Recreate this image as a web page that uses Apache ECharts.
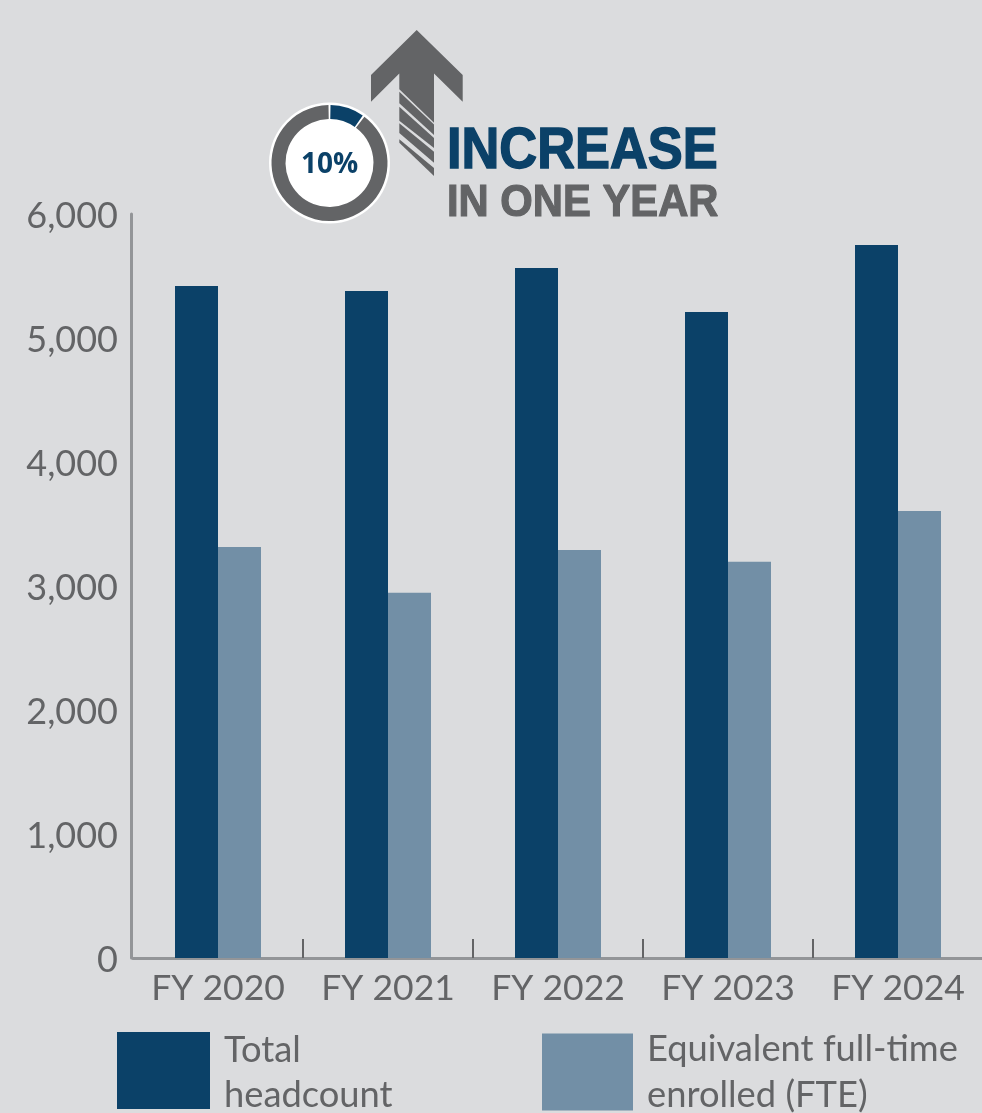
<!DOCTYPE html>
<html><head><meta charset="utf-8">
<style>html,body{margin:0;padding:0;background:#dbdcde;overflow:hidden;width:982px;height:1113px}#c{width:990px;height:1113px}</style>
<script src="https://cdn.jsdelivr.net/npm/echarts@6/dist/echarts.min.js"></script>
</head><body><div id="c"></div>
<script>
const categories = ['FY 2020','FY 2021','FY 2022','FY 2023','FY 2024'];
const totalHeadcount = [5420,5380,5565,5210,5750];
const fteEnrolled = [3315,2945,3290,3195,3605];
const yTicks = {min:0,max:6000,interval:1000};
const donutValues = [10,90];
const names = {total:'Total headcount', fte:'Equivalent full-time enrolled (FTE)'};
const navy='#0b4168', steel='#728fa6', grey='#636466', axisGrey='#939598';
const font='Lato';
const chart=echarts.init(document.getElementById('c'),null,{renderer:'canvas'});
const legendCommon={orient:'horizontal',itemGap:0,icon:'rect',itemWidth:93,itemHeight:77,selectedMode:false};
const legendFont={fontFamily:font,fontSize:36.3,color:grey};
chart.setOption({
  animation:false,backgroundColor:'#dbdcde',
  grid:{left:133,right:7,top:214,bottom:155,containLabel:false},
  legend:[
   Object.assign({},legendCommon,{data:[names.total],left:117,top:1032,padding:0,
     formatter:()=>'{a|Total}\n{b|headcount}',
     textStyle:Object.assign({},legendFont,{padding:[0,0,0,9],rich:{
       a:Object.assign({},legendFont,{lineHeight:50}),
       b:Object.assign({},legendFont,{lineHeight:40})}})}),
   Object.assign({},legendCommon,{data:[names.fte],left:542,top:1026,padding:0,itemWidth:91,
     formatter:()=>'Equivalent full-time\nenrolled (FTE)',
     textStyle:Object.assign({},legendFont,{lineHeight:46,padding:[0,0,0,9]})})
  ],
  xAxis:{type:'category',data:categories,
    axisLine:{lineStyle:{color:axisGrey,width:3}},
    axisTick:{show:true,inside:true,length:19,alignWithLabel:false,interval:(i)=>i>0,lineStyle:{color:grey,width:2}},
    axisLabel:{fontFamily:font,fontSize:35.5,color:grey,margin:13,interval:0}},
  yAxis:{type:'value',min:yTicks.min,max:yTicks.max,interval:yTicks.interval,offset:2,
    axisLine:{show:true,lineStyle:{color:axisGrey,width:3}},
    axisTick:{show:false},splitLine:{show:false},
    axisLabel:{fontFamily:font,fontSize:36,color:grey,margin:13,verticalAlign:'top',lineHeight:5,formatter:v=>v.toLocaleString('en-US')}},
  series:[
   {type:'bar',name:names.total,data:totalHeadcount,barWidth:43,barGap:'0%',itemStyle:{color:navy},z:3},
   {type:'bar',name:names.fte,data:fteEnrolled,barWidth:43,barGap:'0%',itemStyle:{color:steel},z:3},
   {type:'pie',radius:[44,58],center:[329.5,163],startAngle:90,clockwise:true,
    silent:true,label:{show:false},labelLine:{show:false},z:6,
    padAngle:2,
    data:[{value:donutValues[0],itemStyle:{color:navy}},{value:donutValues[1],itemStyle:{color:grey}}]}
  ],
  graphic:[
   {type:'circle',shape:{cx:329.5,cy:163,r:60.5},style:{fill:'#fff'},z:1},
   {type:'polygon',shape:{points:[[416.7,30],[462.7,75],[462.7,101.7],[434,73.5],[434,122.7],[399.3,89.3],[399.3,73.5],[371,101.7],[371,75]]},style:{fill:grey},z:5},
   {type:'polygon',shape:{points:[[399.3,91.7],[434,124.5],[434,135],[399.3,103.3]]},style:{fill:grey},z:5},
   {type:'polygon',shape:{points:[[399.3,106.7],[434,138],[434,148],[399.3,120.7]]},style:{fill:grey},z:5},
   {type:'polygon',shape:{points:[[399.3,123.3],[434,151.7],[434,162.7],[399.3,133]]},style:{fill:grey},z:5},
   {type:'polygon',shape:{points:[[399.3,139.3],[434,168],[434,176],[399.3,142.7]]},style:{fill:grey},z:5},
   {type:'text',x:329.5,y:165,z:8,style:{text:'10%',font:'bold 28px "Open Sans"',fill:navy,align:'center',verticalAlign:'middle'}},
   {type:'text',x:447,y:123,scaleX:0.903,z:8,style:{text:'INCREASE',font:'900 58px "Liberation Sans"',fill:navy,stroke:navy,lineWidth:1.5}},
   {type:'text',x:447,y:181,scaleX:0.928,z:8,style:{text:'IN ONE YEAR',font:'900 45px "Liberation Sans"',fill:grey,stroke:grey,lineWidth:1.2}}
  ]
});
</script></body></html>
